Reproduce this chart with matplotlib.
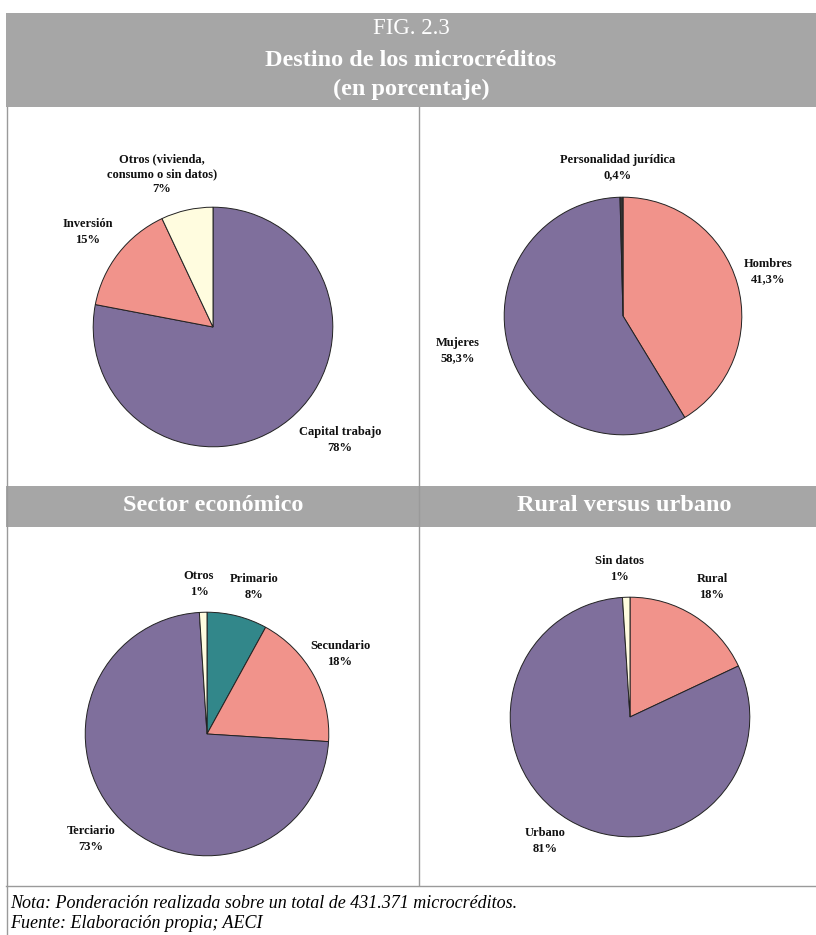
import matplotlib
matplotlib.use("Agg")
import matplotlib.pyplot as plt
from matplotlib.patches import Rectangle
from matplotlib.lines import Line2D

W, H = 816, 935

# ---- data ----
destino_labels = ["Capital trabajo\n78%", "Inversión\n15%", "Otros (vivienda,\nconsumo o sin datos)\n7%"]
destino_values = [78, 15, 7]

genero_labels = ["Hombres\n41,3%", "Mujeres\n58,3%", "Personalidad jurídica\n0,4%"]
genero_values = [41.3, 58.3, 0.4]

sector_labels = ["Primario\n8%", "Secundario\n18%", "Terciario\n73%", "Otros\n1%"]
sector_values = [8, 18, 73, 1]

rural_labels = ["Rural\n18%", "Urbano\n81%", "Sin datos\n1%"]
rural_values = [18, 81, 1]

PURPLE = "#7F6F9C"
PINK = "#F1938B"
CREAM = "#FFFCDF"
TEAL = "#32878A"
GRAY = "#A6A6A6"
LINE = "#9A9A9A"

plt.rcParams['font.family'] = ['Liberation Serif', 'DejaVu Serif']

fig = plt.figure(figsize=(W / 100, H / 100), dpi=100)
fig.patch.set_facecolor("white")


def fx(x):
    return x / W


def fy(y):
    return 1 - y / H


def rect_px(x0, y0, x1, y1, color):
    fig.patches.append(Rectangle((fx(x0), fy(y1)), fx(x1) - fx(x0), fy(y0) - fy(y1),
                                 transform=fig.transFigure, facecolor=color, edgecolor="none", zorder=0))


def line_px(x0, y0, x1, y1, lw=1.0):
    fig.lines.append(Line2D([fx(x0), fx(x1)], [fy(y0), fy(y1)], transform=fig.transFigure,
                            color=LINE, linewidth=lw, zorder=1))


def text_px(x, y, s, **kw):
    fig.text(fx(x), fy(y), s, ha="center", va="center", **kw)


# header bands
rect_px(6, 13, 816, 107, GRAY)
rect_px(6, 486, 816, 527, GRAY)

# frame lines
line_px(6.5, 107, 6.5, 935)
line_px(419.5, 107, 419.5, 885)
line_px(6, 885.5, 816, 885.5)

# header text
text_px(411, 28, "FIG. 2.3", fontsize=16.5, color="white")
text_px(411, 60, "Destino de los microcréditos", fontsize=17.5, color="white", fontweight="bold")
text_px(411, 89, "(en porcentaje)", fontsize=17.5, color="white", fontweight="bold")
text_px(213, 506, "Sector económico", fontsize=17.5, color="white", fontweight="bold")
text_px(624, 506, "Rural versus urbano", fontsize=17.5, color="white", fontweight="bold")

# footnotes
fig.text(fx(10), fy(903), "Nota: Ponderación realizada sobre un total de 431.371 microcréditos.",
         ha="left", va="center", fontsize=13, style="italic")
fig.text(fx(10), fy(924), "Fuente: Elaboración propia; AECI",
         ha="left", va="center", fontsize=13, style="italic")


def pie_px(cx, cy, r, values, colors):
    ax = fig.add_axes([fx(cx - r), fy(cy + r), 2 * r / W, 2 * r / H])
    ax.pie(values, colors=colors, startangle=90, counterclock=False, radius=1,
           wedgeprops=dict(edgecolor="#222222", linewidth=0.7))
    ax.set_xlim(-1.01, 1.01)
    ax.set_ylim(-1.01, 1.01)
    ax.set_aspect("auto")
    ax.axis("off")
    return ax


lab = dict(fontsize=9, fontweight="bold", color="#111111", linespacing=1.35)

# top-left: destino
pie_px(213, 327, 121, destino_values, [PURPLE, PINK, CREAM])
text_px(340, 440, destino_labels[0], **lab)
text_px(88, 232, destino_labels[1], **lab)
text_px(162, 174, destino_labels[2], **lab)

# top-right: genero
pie_px(623, 316, 120, genero_values, [PINK, PURPLE, "#333333"])
text_px(768, 272, genero_labels[0], **lab)
text_px(458, 351, genero_labels[1], **lab)
text_px(618, 168, genero_labels[2], **lab)

# bottom-left: sector
pie_px(207, 734, 123, sector_values, [TEAL, PINK, PURPLE, CREAM])
text_px(254, 587, sector_labels[0], **lab)
text_px(340, 654, sector_labels[1], **lab)
text_px(91, 839, sector_labels[2], **lab)
text_px(199, 584, sector_labels[3], **lab)

# bottom-right: rural
pie_px(630, 717, 121, rural_values, [PINK, PURPLE, CREAM])
text_px(712, 587, rural_labels[0], **lab)
text_px(545, 841, rural_labels[1], **lab)
text_px(619, 569, rural_labels[2], **lab)

fig.savefig("out.png", dpi=100, facecolor="white")
